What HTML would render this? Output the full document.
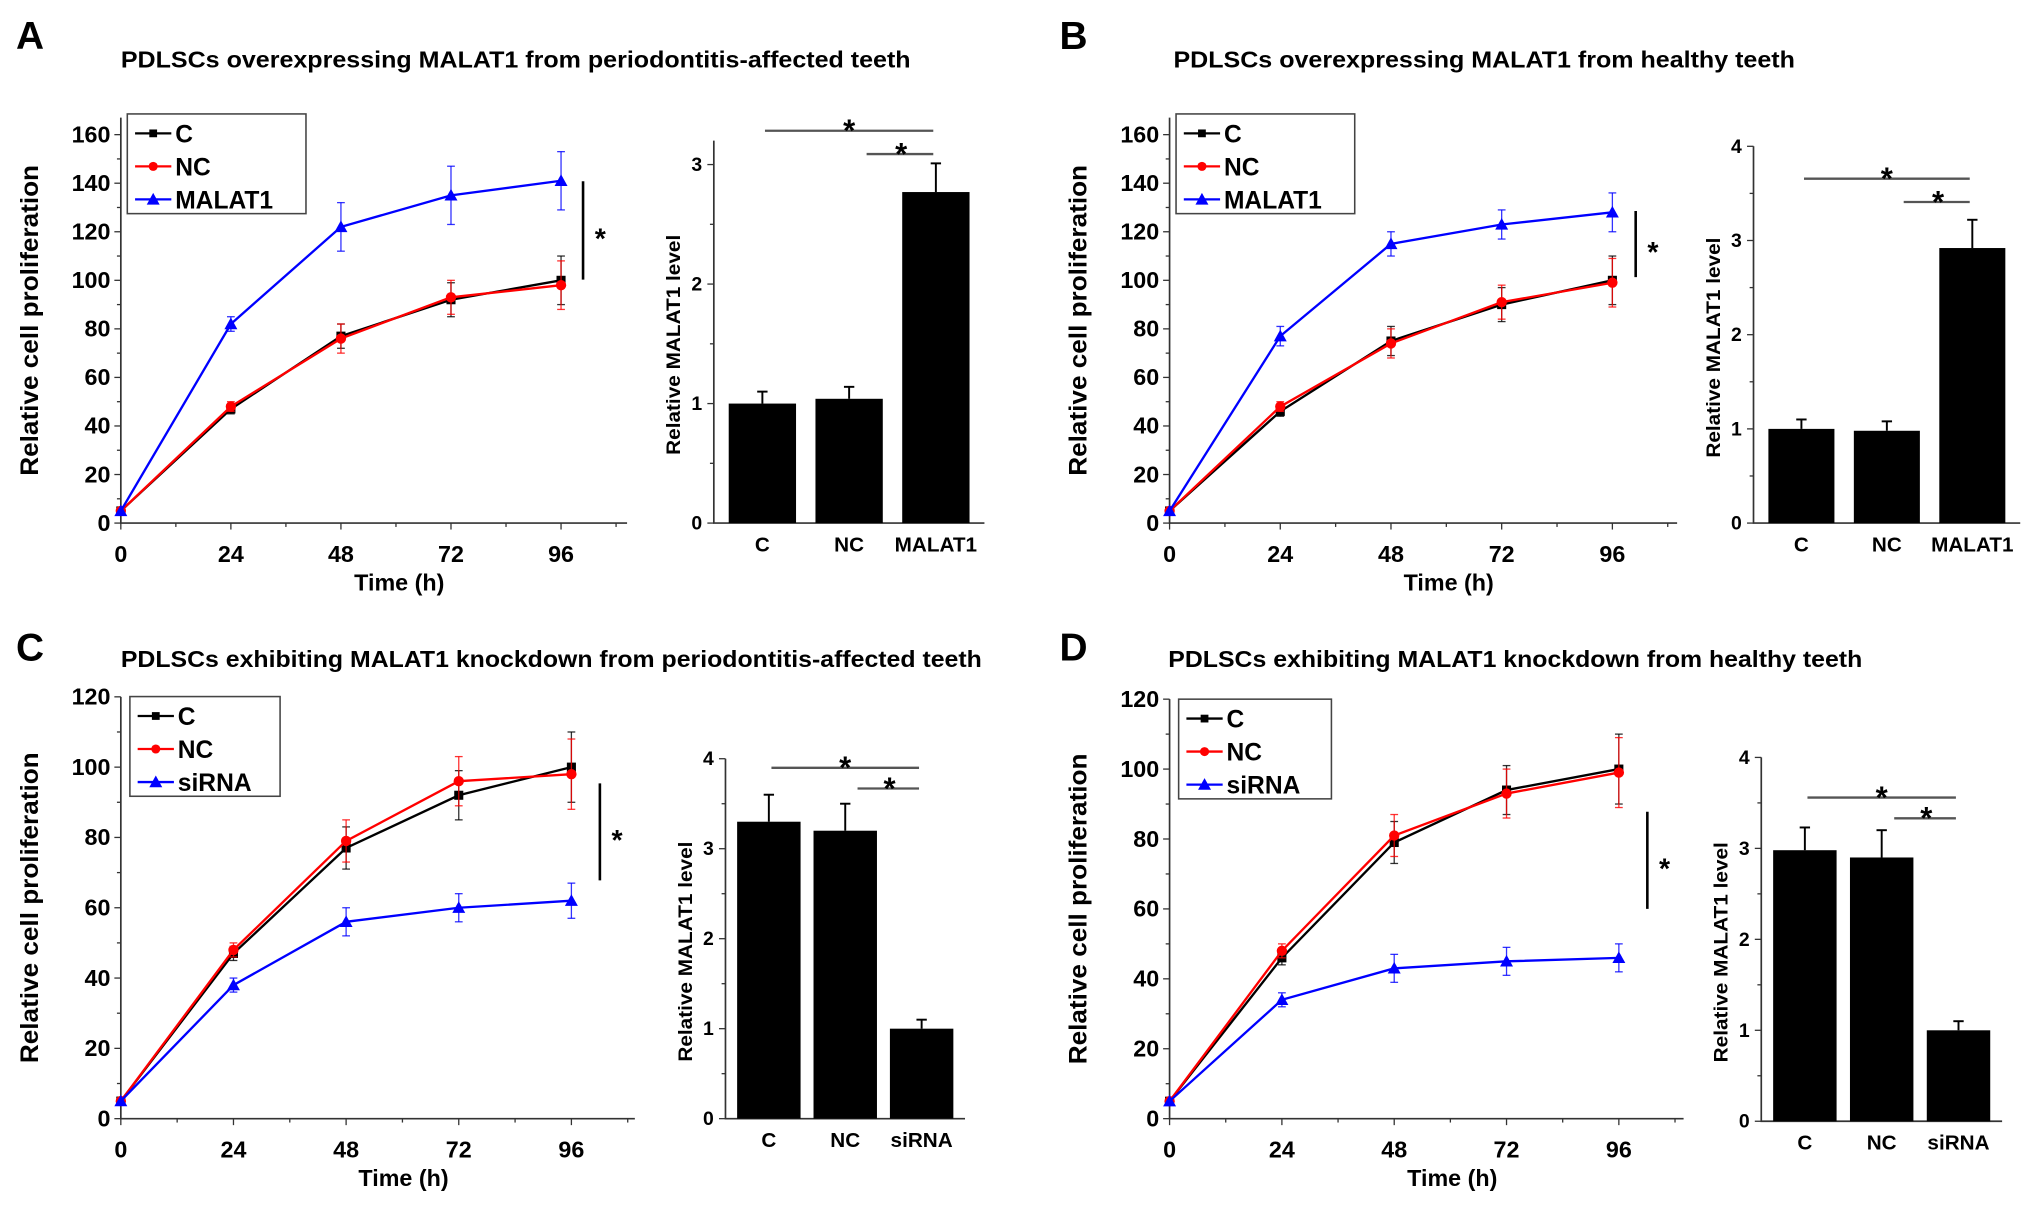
<!DOCTYPE html>
<html><head><meta charset="utf-8"><style>
html,body{margin:0;padding:0;background:#fff;}
svg{display:block;font-family:"Liberation Sans",sans-serif;font-weight:bold;}
</style></head><body>
<svg id="fig" width="2031" height="1208" viewBox="0 0 1568 933" xmlns="http://www.w3.org/2000/svg">
<text x="12" y="38" font-size="30">A</text>
<text x="93" y="52" font-size="18" textLength="610" lengthAdjust="spacingAndGlyphs">PDLSCs overexpressing MALAT1 from periodontitis-affected teeth</text>
<text x="818" y="38" font-size="30">B</text>
<text x="906" y="52" font-size="18" textLength="480" lengthAdjust="spacingAndGlyphs">PDLSCs overexpressing MALAT1 from healthy teeth</text>
<text x="12" y="510" font-size="30">C</text>
<text x="93" y="515" font-size="18" textLength="665" lengthAdjust="spacingAndGlyphs">PDLSCs exhibiting MALAT1 knockdown from periodontitis-affected teeth</text>
<text x="818" y="510" font-size="30">D</text>
<text x="902" y="515" font-size="18" textLength="536" lengthAdjust="spacingAndGlyphs">PDLSCs exhibiting MALAT1 knockdown from healthy teeth</text>
</svg>
<script>
const times = [0, 24, 48, 72, 96];
const barCats = [["C","NC","MALAT1"],["C","NC","MALAT1"],["C","NC","siRNA"],["C","NC","siRNA"]];
const seriesNames = [["C","NC","MALAT1"],["C","NC","MALAT1"],["C","NC","siRNA"],["C","NC","siRNA"]];
const aC = [5,47,77,92,100], aNC = [5,48,76,93,98], aM = [5,82,122,135,141];
const aCe = [0,2,5,7,10], aNCe = [0,2,6,7,10], aMe = [0,3,10,12,12];
const bC = [5,46,75,90,100], bNC = [5,48,74,91,99], bM = [5,77,115,123,128];
const bCe = [0,2,6,7,10], bNCe = [0,2,6,7,10], bMe = [0,4,5,6,8];
const cC = [5,47,77,92,100], cNC = [5,48,79,96,98], cS = [5,38,56,60,62];
const cCe = [0,2,6,7,10], cNCe = [0,2,6,7,10], cSe = [0,2,4,4,5];
const dC = [5,46,79,94,100], dNC = [5,48,81,93,99], dS = [5,34,43,45,46];
const dCe = [0,2,6,7,10], dNCe = [0,2,6,7,10], dSe = [0,2,4,4,4];
const barA = [1.0,1.04,2.77], barAe = [0.1,0.1,0.24];
const barB = [1.0,0.98,2.92], barBe = [0.1,0.1,0.3];
const barC = [3.3,3.2,1.0], barCe = [0.3,0.3,0.1];
const barD = [2.98,2.9,1.0], barDe = [0.25,0.3,0.1];
const xTicks = [0,24,48,72,96];
const yTicksA = [0,20,40,60,80,100,120,140,160];
const yTicksC = [0,20,40,60,80,100,120];
const barTicksA = [0,1,2,3];
const barTicksB = [0,1,2,3,4];

const svg = document.getElementById('fig');
const NS = 'http://www.w3.org/2000/svg';
function mk(tag, attrs, parent){const e=document.createElementNS(NS,tag);for(const k in attrs)e.setAttribute(k,attrs[k]);(parent||svg).appendChild(e);return e;}
const colors = ['#000','#f00','#00f'];

function lineChart(cfg){
  const g = mk('g',{});
  
  
  const X = v => cfg.x0 + (v/24)*cfg.px24;
  const Y = v => cfg.y0 - v*cfg.pyu;
  const ax = mk('path',{d:`M${cfg.x0},${Y(cfg.ymax)} L${cfg.x0},${cfg.y0} L${cfg.xend},${cfg.y0}`,stroke:'#333',fill:'none','stroke-width':1.3},g);
  
  
  for(let v=0; X(v)<=cfg.xend+0.5; v+=12){
    const maj = v%24===0;
    mk('line',{x1:X(v),x2:X(v),y1:cfg.y0,y2:cfg.y0+(maj?5:3),stroke:'#333'},g);
  }
  xTicks.forEach(v=>{const t=mk('text',{x:X(v),y:cfg.y0+30,'font-size':18,'text-anchor':'middle'},g);t.textContent=v;
    
    });
  const step = cfg.yt[1]-cfg.yt[0];
  for(let v=0; v<=cfg.ymax; v+=step/2){
    const maj = (v%step)===0;
    mk('line',{x1:cfg.x0,x2:cfg.x0-(maj?5:3),y1:Y(v),y2:Y(v),stroke:'#333'},g);
  }
  cfg.yt.forEach(v=>{const t=mk('text',{x:cfg.x0-8,y:Y(v)+6,'font-size':18,'text-anchor':'end'},g);t.textContent=v;
    
    });
  const yl=mk('text',{x:0,y:0,'font-size':19,'text-anchor':'middle',textLength:240,lengthAdjust:'spacingAndGlyphs',transform:`translate(${cfg.x0-64},${(cfg.y0+Y(cfg.ymax))/2}) rotate(-90)`},g);
  yl.textContent='Relative cell proliferation';
  
  
  const xl=mk('text',{x:cfg.x0+(cfg.xend-cfg.x0)*0.55,y:cfg.y0+52,'font-size':18,'text-anchor':'middle'},g);
  xl.textContent='Time (h)';
  
  
  cfg.series.forEach((s,i)=>{
    const c=colors[i];
    const sg=mk('g',{},g);
    
    
    s.forEach((v,j)=>{const e=cfg.errs[i][j]; if(e>0){
      mk('line',{x1:X(times[j]),x2:X(times[j]),y1:Y(v-e),y2:Y(v+e),stroke:c,'stroke-width':1,opacity:0.8},sg);
      mk('line',{x1:X(times[j])-3,x2:X(times[j])+3,y1:Y(v-e),y2:Y(v-e),stroke:c,opacity:0.8},sg);
      mk('line',{x1:X(times[j])-3,x2:X(times[j])+3,y1:Y(v+e),y2:Y(v+e),stroke:c,opacity:0.8},sg);}});
    mk('polyline',{points:s.map((v,j)=>X(times[j])+','+Y(v)).join(' '),fill:'none',stroke:c,'stroke-width':1.8},sg);
    s.forEach((v,j)=>{
      const px=X(times[j]), py=Y(v); let m;
      if(i===0) m=mk('rect',{x:px-3.5,y:py-3.5,width:7,height:7,fill:c},sg);
      else if(i===1) m=mk('circle',{cx:px,cy:py,r:4,fill:c},sg);
      else m=mk('path',{d:`M${px},${py-5} L${px+5},${py+4} L${px-5},${py+4}Z`,fill:c},sg);
      
      
    });
  });
  const lg=mk('g',{},g);
  
  
  mk('rect',{x:cfg.lx,y:cfg.ly,width:cfg.lw,height:77,fill:'#fff',stroke:'#444','stroke-width':1.2},lg);
  cfg.names.forEach((n,i)=>{
    const yy=cfg.ly+15+i*25.5, c=colors[i];
    const eg=mk('g',{},lg);
    
    
    mk('line',{x1:cfg.lx+6,x2:cfg.lx+34,y1:yy,y2:yy,stroke:c,'stroke-width':1.8},eg);
    const px=cfg.lx+20;
    if(i===0) mk('rect',{x:px-3,y:yy-3,width:6,height:6,fill:c},eg);
    else if(i===1) mk('circle',{cx:px,cy:yy,r:3.5,fill:c},eg);
    else mk('path',{d:`M${px},${yy-5} L${px+5},${yy+4} L${px-5},${yy+4}Z`,fill:c},eg);
    const t=mk('text',{x:cfg.lx+37,y:yy+7,'font-size':19},eg); t.textContent=n;
  });
  const sl=mk('line',{x1:cfg.sx,x2:cfg.sx,y1:cfg.sy1,y2:cfg.sy2,stroke:'#000','stroke-width':2},g);
  
  
  const st=mk('text',{x:cfg.sx+9,y:(cfg.sy1+cfg.sy2)/2+14,'font-size':22},g); st.textContent='*';
  
  
}

function barChart(cfg){
  const g = mk('g',{});
  
  
  const Y = v => cfg.y0 - v*cfg.pyu;
  mk('path',{d:`M${cfg.x0},${Y(cfg.ymax)} L${cfg.x0},${cfg.y0} L${cfg.xend},${cfg.y0}`,stroke:'#333',fill:'none','stroke-width':1.3},g);
  for(let v=0; v<=cfg.ymax+1e-6; v+=0.5){
    const maj=Math.abs(v-Math.round(v))<1e-6;
    mk('line',{x1:cfg.x0,x2:cfg.x0-(maj?5:3),y1:Y(v),y2:Y(v),stroke:'#333'},g);
  }
  cfg.yt.forEach(v=>{const t=mk('text',{x:cfg.x0-9,y:Y(v)+5,'font-size':15,'text-anchor':'end'},g);t.textContent=v;
    
    });
  const yl=mk('text',{x:0,y:0,'font-size':15,'text-anchor':'middle',textLength:170,lengthAdjust:'spacingAndGlyphs',transform:`translate(${cfg.x0-26},${(cfg.y0+Y(cfg.ymax))/2+10}) rotate(-90)`},g);
  yl.textContent='Relative MALAT1 level';
  
  
  const slot=(cfg.xend-cfg.x0-8)/3;
  const centers=[];
  cfg.vals.forEach((v,i)=>{
    const cx=cfg.x0+4+slot*(i+0.5); centers.push(cx);
    const b=mk('rect',{x:cx-cfg.bw/2,y:Y(v),width:cfg.bw,height:cfg.y0-Y(v),fill:'#000'},g);
    
    
    const e=cfg.errs[i];
    mk('line',{x1:cx,x2:cx,y1:Y(v),y2:Y(v+e),stroke:'#000','stroke-width':1.5},g);
    mk('line',{x1:cx-4,x2:cx+4,y1:Y(v+e),y2:Y(v+e),stroke:'#000','stroke-width':1.5},g);
    const t=mk('text',{x:cx,y:cfg.y0+22,'font-size':16,'text-anchor':'middle'},g); t.textContent=cfg.cats[i];
    
    
  });
  const s1=mk('line',{x1:centers[0]+2,x2:centers[2]-2,y1:cfg.s1,y2:cfg.s1,stroke:'#555','stroke-width':1.8},g);
  
  
  const s2=mk('line',{x1:(centers[1]+centers[2])/2-20,x2:centers[2]-2,y1:cfg.s2,y2:cfg.s2,stroke:'#555','stroke-width':1.8},g);
  
  
  const t1=mk('text',{x:(centers[0]+centers[2])/2,y:cfg.s1+8,'font-size':24,'text-anchor':'middle'},g); t1.textContent='*';
  
  
  const t2=mk('text',{x:((centers[1]+centers[2])/2-20+centers[2])/2,y:cfg.s2+8,'font-size':24,'text-anchor':'middle'},g); t2.textContent='*';
  
  
}

lineChart({name:'line-chart-a',x0:93,y0:404,px24:85,pyu:37.5/20,ymax:167,xend:484,yt:yTicksA,
  series:[aC,aNC,aM],errs:[aCe,aNCe,aMe],names:seriesNames[0],lx:98,ly:88,lw:138,sx:450,sy1:140,sy2:216});
lineChart({name:'line-chart-b',x0:903,y0:404,px24:85.5,pyu:37.5/20,ymax:167,xend:1295,yt:yTicksA,
  series:[bC,bNC,bM],errs:[bCe,bNCe,bMe],names:seriesNames[1],lx:908,ly:88,lw:138,sx:1263,sy1:163,sy2:214});
lineChart({name:'line-chart-c',x0:93,y0:864,px24:87,pyu:54.3/20,ymax:120,xend:490,yt:yTicksC,
  series:[cC,cNC,cS],errs:[cCe,cNCe,cSe],names:seriesNames[2],lx:100,ly:538,lw:116,sx:463,sy1:605,sy2:680});
lineChart({name:'line-chart-d',x0:903,y0:864,px24:86.75,pyu:54/20,ymax:120,xend:1300,yt:yTicksC,
  series:[dC,dNC,dS],errs:[dCe,dNCe,dSe],names:seriesNames[3],lx:910,ly:540,lw:118,sx:1272,sy1:627,sy2:702});

barChart({name:'bar-chart-a',x0:551,y0:404,pyu:92.3,ymax:3.2,xend:760,bw:52,yt:barTicksA,vals:barA,errs:barAe,cats:barCats[0],s1:101,s2:119});
barChart({name:'bar-chart-b',x0:1354,y0:404,pyu:72.75,ymax:4,xend:1560,bw:51,yt:barTicksB,vals:barB,errs:barBe,cats:barCats[1],s1:138,s2:156});
barChart({name:'bar-chart-c',x0:560,y0:864,pyu:69.5,ymax:4,xend:745,bw:49,yt:barTicksB,vals:barC,errs:barCe,cats:barCats[2],s1:593,s2:609});
barChart({name:'bar-chart-d',x0:1360,y0:866,pyu:70.25,ymax:4,xend:1546,bw:49,yt:barTicksB,vals:barD,errs:barDe,cats:barCats[3],s1:616,s2:632});
</script>
</body></html>
